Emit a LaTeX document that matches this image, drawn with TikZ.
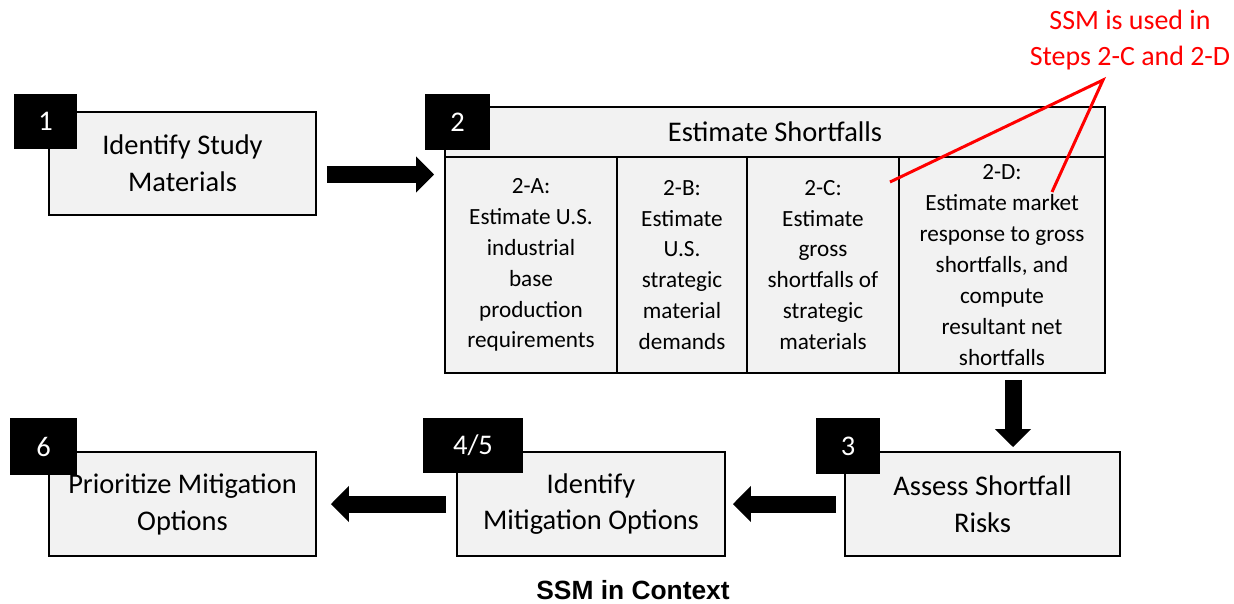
\documentclass[tikz,border=0pt]{standalone}
\usepackage{fontspec}
\setmainfont{Carlito}
\newfontfamily\capfont{Liberation Sans}
\usetikzlibrary{arrows.meta, calc}
\definecolor{boxgray}{HTML}{F2F2F2}

\begin{document}
\begin{tikzpicture}[x=0.02cm, y=-0.02cm,
  box/.style={draw, fill=boxgray, line width=1.1pt, align=center, minimum height=2.06cm, font=\fontsize{16.2}{21}\selectfont},
  sub/.style={draw, fill=boxgray, line width=1.1pt, align=center, minimum height=4.32cm, inner sep=0pt, font=\fontsize{13.2}{17.6}\selectfont},
  tag/.style={fill=black, text=white, minimum height=1.1cm, font=\fontsize{16.2}{18}\selectfont},
  blk/.style={line width=0.34cm, -{Triangle[length=0.36cm, width=0.7cm]}},
  note/.style={red, line width=1.7pt}]
  \useasboundingbox (0,0) rectangle (1234,603);

  \node[box, minimum width=5.34cm] (b1) at (182.5,163.5) {Identify Study\\Materials};
  \node[tag, minimum width=1.26cm] (t1) at (45.5,121.5) {1};

  \node[box, minimum width=13.2cm, minimum height=1.0cm] (b2) at (775,132) {Estimate Shortfalls};
  \node[sub, minimum width=3.44cm] (s2a) at (531,265) {2-A:\\Estimate U.S.\\industrial\\base\\production\\requirements};
  \node[sub, minimum width=2.6cm] (s2b) at (682,265) {2-B:\\Estimate\\U.S.\\strategic\\material\\demands};
  \node[sub, minimum width=3.04cm] (s2c) at (823,265) {2-C:\\Estimate\\gross\\shortfalls of\\strategic\\materials};
  \node[sub, minimum width=4.12cm] (s2d) at (1002,265) {2-D:\\Estimate market\\response to gross\\shortfalls, and\\compute\\resultant net\\shortfalls};
  \node[tag, minimum width=1.3cm, minimum height=1.12cm] (t2) at (457.5,122) {2};

  \node[box, minimum width=5.5cm, minimum height=2.08cm] (b3) at (982.5,504) {Assess Shortfall\\Risks};
  \node[tag, minimum width=1.28cm, minimum height=1.12cm] (t3) at (848,446) {3};

  \node[box, minimum width=5.36cm, minimum height=2.08cm] (b45) at (591,504) {Identify\\Mitigation Options};
  \node[tag, minimum width=2.0cm] (t45) at (473,445.5) {4/5};

  \node[box, minimum width=5.34cm, minimum height=2.08cm] (b6) at (182.5,504) {Prioritize Mitigation\\Options};
  \node[tag, minimum width=1.34cm, minimum height=1.14cm] (t6) at (43.5,446.5) {6};

  % block arrows
  \draw[blk, shorten <=0.2cm, shorten >=0.2cm] ([yshift=-0.22cm]b1.east) -- ([yshift=-0.22cm]b1.east -| s2a.west);
  \draw[blk, shorten <=0.12cm, shorten >=0.08cm] ([xshift=0.22cm]s2d.south) -- ([xshift=0.22cm]s2d.south |- b3.north);
  \draw[blk, shorten <=0.16cm, shorten >=0.14cm] (b3.west) -- (b45.east);
  \draw[blk, shorten <=0.2cm, shorten >=0.28cm] (b45.west) -- (b6.east);

  % red note
  \node[red, align=center, font=\fontsize{15.9}{21}\selectfont] (ssm) at (1130,40) {SSM is used in\\Steps 2-C and 2-D};
  \coordinate (apex) at (1103,80);
  \coordinate (pc) at (890,182);
  \coordinate (pd) at (1052,192);
  \draw[note] (pc) -- (apex) -- (pd);

  \node[font=\capfont\bfseries\fontsize{15}{17}\selectfont] (cap) at (633,590) {SSM in Context};
\end{tikzpicture}
\end{document}
